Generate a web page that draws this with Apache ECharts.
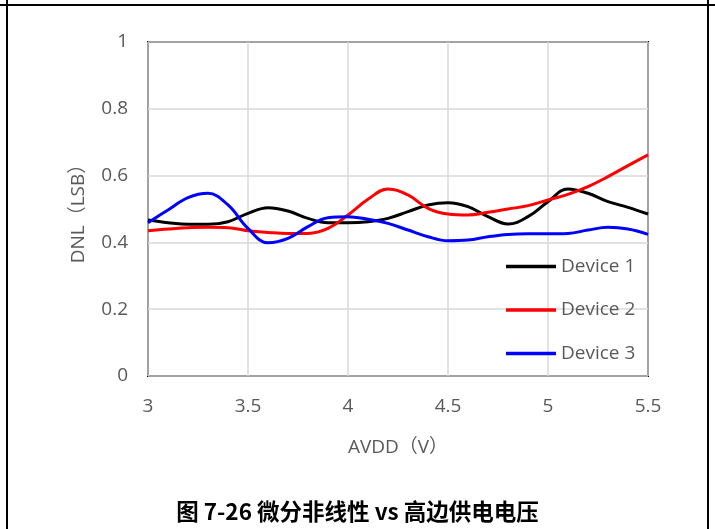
<!DOCTYPE html>
<html>
<head>
<meta charset="utf-8">
<script src="https://cdn.jsdelivr.net/npm/echarts@6/dist/echarts.min.js"></script>
<style>
html,body{margin:0;padding:0;background:#fff;}
#chart{width:715px;height:529px;}
</style>
</head>
<body>
<div id="chart"></div>
<script>
var voltages = [3.0, 3.1, 3.2, 3.3, 3.4, 3.5, 3.6, 3.7, 3.8, 3.9, 4.0, 4.1, 4.2,
                4.3, 4.4, 4.5, 4.6, 4.7, 4.8, 4.9, 5.0, 5.1, 5.2, 5.3, 5.4, 5.5];
var device1 = [0.467, 0.459, 0.454, 0.454, 0.462, 0.487, 0.504, 0.494, 0.472, 0.459, 0.459, 0.462, 0.472,
               0.492, 0.512, 0.519, 0.507, 0.477, 0.455, 0.477, 0.522, 0.560, 0.547, 0.522, 0.505, 0.485];
var device2 = [0.435, 0.440, 0.444, 0.445, 0.444, 0.435, 0.430, 0.427, 0.427, 0.442, 0.482, 0.529, 0.560,
               0.542, 0.502, 0.485, 0.482, 0.490, 0.500, 0.510, 0.527, 0.544, 0.567, 0.597, 0.630, 0.662];
var device3 = [0.459, 0.497, 0.534, 0.547, 0.512, 0.442, 0.399, 0.412, 0.447, 0.474, 0.477, 0.469, 0.457,
               0.437, 0.417, 0.405, 0.407, 0.417, 0.424, 0.426, 0.426, 0.427, 0.437, 0.445, 0.440, 0.424];
var seriesNames = ['Device 1', 'Device 2', 'Device 3'];
var seriesColors = ['#000000', '#ff0000', '#0000ff'];
var xTicks = {min: 3, max: 5.5, interval: 0.5};
var yTicks = {min: 0, max: 1, interval: 0.2};
var titleText = '图 7-26 微分非线性 vs 高边供电电压';
var xName = 'AVDD（V）';
var yName = 'DNL（LSB）';

function pairs(xs, ys) { return xs.map(function (x, i) { return [x, ys[i]]; }); }
var allData = [device1, device2, device3];
var FONT = '"Open Sans", "Noto Sans CJK SC", sans-serif';

var chart = echarts.init(document.getElementById('chart'), null, {renderer: 'canvas'});
chart.setOption({
  animation: false,
  backgroundColor: '#ffffff',
  title: {
    text: titleText,
    left: 'center',
    top: 495,
    textStyle: {fontFamily: '"Noto Sans CJK SC", sans-serif', fontSize: 22.5, fontWeight: 'bold', color: '#000'}
  },
  graphic: [
    {type: 'line', shape: {x1: 0, y1: 5, x2: 715, y2: 5}, style: {stroke: '#000', lineWidth: 2}},
    {type: 'line', shape: {x1: 7, y1: 0, x2: 7, y2: 529}, style: {stroke: '#000', lineWidth: 2}},
    {type: 'line', shape: {x1: 708, y1: 0, x2: 708, y2: 529}, style: {stroke: '#000', lineWidth: 2}}
  ],
  grid: {left: 148, right: 67, top: 42, bottom: 153, show: true, borderColor: '#000', borderWidth: 2, containLabel: false},
  legend: {
    orient: 'vertical',
    left: 501,
    top: 252,
    itemWidth: 50,
    itemHeight: 3.5,
    itemGap: 24.5,
    icon: 'rect',
    textStyle: {fontFamily: FONT, fontSize: 19, color: '#595959', padding: [0, 0, 0, 0]},
    data: seriesNames
  },
  xAxis: {
    type: 'value',
    min: xTicks.min, max: xTicks.max, interval: xTicks.interval,
    name: xName, nameLocation: 'middle', nameGap: 62,
    nameTextStyle: {fontFamily: FONT, fontSize: 19, color: '#595959'},
    axisLine: {show: false},
    axisTick: {show: false},
    axisLabel: {fontFamily: FONT, fontSize: 19, color: '#595959', margin: 21},
    splitLine: {show: true, lineStyle: {color: '#d9d9d9', width: 1.5}}
  },
  yAxis: {
    type: 'value',
    min: yTicks.min, max: yTicks.max, interval: yTicks.interval,
    name: yName, nameLocation: 'middle', nameGap: 60,
    nameTextStyle: {fontFamily: FONT, fontSize: 19, color: '#595959'},
    axisLine: {show: false},
    axisTick: {show: false},
    axisLabel: {fontFamily: FONT, fontSize: 19, color: '#595959', margin: 20},
    splitLine: {show: true, lineStyle: {color: '#d9d9d9', width: 1.5}}
  },
  series: seriesNames.map(function (name, i) {
    return {
      name: name,
      type: 'line',
      smooth: 0.4,
      symbol: 'none',
      color: seriesColors[i],
      lineStyle: {width: 3, color: seriesColors[i]},
      data: pairs(voltages, allData[i])
    };
  })
});
</script>
</body>
</html>
